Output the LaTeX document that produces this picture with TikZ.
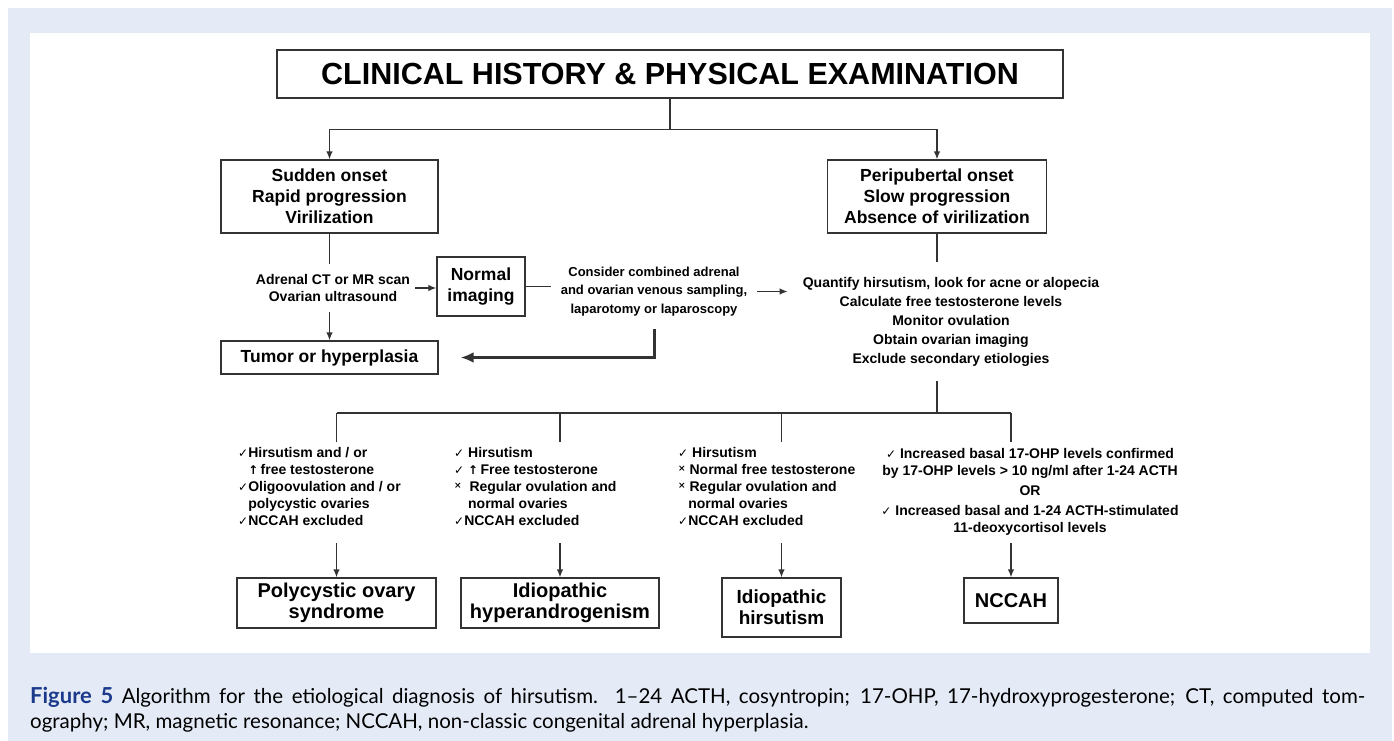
\documentclass[tikz,border=0pt]{standalone}
\usepackage{fontspec}
\setmainfont{Liberation Sans}
\newfontfamily\capfont[Ligatures=TeX]{Lato}
\newfontfamily\symfont{DejaVu Sans}
\usetikzlibrary{arrows.meta}

\definecolor{bgblue}{HTML}{E4EAF6}
\definecolor{figblue}{HTML}{1C3A8C}
\definecolor{linegray}{HTML}{333333}

\newcommand{\chk}{{\symfont\fontsize{12}{12}\selectfont ✓}}
\newcommand{\crs}{\raisebox{3pt}{\symfont\fontsize{9}{9}\selectfont ×}}
\newcommand{\uparr}{{\symfont\fontsize{12}{12}\selectfont ↑}}
\newcommand{\fsz}[2]{\fontsize{#1}{#2}\selectfont\bfseries}

\tikzset{
	box/.style={draw=linegray,line width=1.3pt,fill=white,align=center,inner sep=0pt,font=\fsz{17.5}{21}},
	txt/.style={align=center,inner sep=0pt,font=\fsz{14}{17}},
	crit/.style={align=left,inner sep=0pt,anchor=north west,font=\fsz{14}{17}},
	link/.style={draw=linegray,line width=1.3pt},
	arr/.style={link,-{Latex[length=8pt,width=6.5pt]}}
}

\begin{document}
\begin{tikzpicture}[x=1pt,y=-1pt]
	\useasboundingbox (0,0) rectangle (1394,741);
	\fill[bgblue] (8,8) rectangle (1392,741);
	\fill[white] (30,33) rectangle (1370,653);

	\node[box,minimum width=786,minimum height=48,font=\fsz{30.5}{32}] (exam) at (670,74) {CLINICAL HISTORY \& PHYSICAL EXAMINATION};
	\node[box,minimum width=217,minimum height=73] (sudden) at (329.5,196.5) {Sudden onset\\Rapid progression\\Virilization};
	\node[box,minimum width=219,minimum height=73] (peri) at (937,196.5) {Peripubertal onset\\Slow progression\\Absence of virilization};
	\node[txt,inner xsep=5,inner ysep=10] (scan) at (333,288) {Adrenal CT or MR scan\\Ovarian ultrasound};
	\node[box,minimum width=88,minimum height=59] (normal) at (481,286.5) {Normal\\imaging};
	\node[txt,inner xsep=10,inner ysep=13,font=\fsz{13}{18.5}] (consider) at (654,291.5) {Consider combined adrenal\\and ovarian venous sampling,\\laparotomy or laparoscopy};
	\node[txt,inner xsep=15,inner ysep=15,font=\fsz{14}{19}] (workup) at (951,321.5) {Quantify hirsutism, look for acne or alopecia\\Calculate free testosterone levels\\Monitor ovulation\\Obtain ovarian imaging\\Exclude secondary etiologies};
	\node[box,minimum width=217,minimum height=33] (tumor) at (329.5,357.5) {Tumor or hyperplasia};

	\draw[arr] (exam.south) -- ++(0,31) -| (sudden.north);
	\draw[arr] (exam.south) -- ++(0,31) -| (peri.north);
	\draw[link] (sudden.south) -- (sudden.south |- scan.north);
	\draw[arr] (sudden.south |- scan.south) -- (tumor.north);
	\draw[arr] (scan.east) -- (scan.east -| normal.west);
	\draw[link] (normal.east) -- (normal.east -| consider.west);
	\draw[arr] (consider.east) -- (consider.east -| workup.west);
	\draw[link] (peri.south) -- (peri.south |- workup.north);
	\draw[draw=linegray,line width=3pt,-{Latex[length=13pt,width=11pt]}] (consider.south) |- ([xshift=22pt]tumor.east);

	\node[crit] (pcoscrit) at (238,447) {\chk Hirsutism and / or\\\phantom{\chk}\uparr\,free testosterone\\\chk Oligoovulation and / or\\\phantom{\chk}polycystic ovaries\\\chk NCCAH excluded};
	\node[crit] (hypercrit) at (454,447) {\chk\ Hirsutism\\\chk\ \uparr\,Free testosterone\\\crs\ \ Regular ovulation and\\\phantom{\chk\ }normal ovaries\\\chk NCCAH excluded};
	\node[crit] (hirscrit) at (678,447) {\chk\ Hirsutism\\\crs\ Normal free testosterone\\\crs\ Regular ovulation and\\\phantom{\chk}normal ovaries\\\chk NCCAH excluded};
	\node[txt] (nccahcrit) at (1030,492) {\chk\ Increased basal 17-OHP levels confirmed\\by 17-OHP levels > 10 ng/ml after 1-24 ACTH\\[3pt]OR\\[3pt]\chk\ Increased basal and 1-24 ACTH-stimulated\\11-deoxycortisol levels};

	\node[box,minimum width=199,minimum height=50,font=\fsz{20}{21}] (pcos) at (336.5,603) {Polycystic ovary\\syndrome};
	\node[box,minimum width=198,minimum height=50,font=\fsz{20}{21}] (hyper) at (560,603) {Idiopathic\\hyperandrogenism};
	\node[box,minimum width=119,minimum height=59,font=\fsz{19}{21}] (hirs) at (781.5,607.5) {Idiopathic\\hirsutism};
	\node[box,minimum width=94,minimum height=45,font=\fsz{20}{21}] (nccah) at (1011,600.5) {NCCAH};

	\coordinate (hub) at (937,413);
	\coordinate (row) at (0,543);
	\draw[link] (peri.south |- workup.south) -- (hub);
	\draw[link] (pcos.north |- hub) -- (nccah.north |- hub);
	\foreach \b in {pcos,hyper,hirs,nccah} {
		\draw[link] (\b.north |- hub) -- ++(0,29);
		\draw[arr] (\b.north |- row) -- (\b.north);
	}

	\node[anchor=base west,inner sep=0pt,align=left,font=\capfont\fontsize{20.5}{25}\selectfont] (caption) at (30,728) {\makebox[1335pt][s]{\textcolor{figblue}{\bfseries\fontsize{22}{25}\selectfont Figure 5}\ Algorithm for the etiological diagnosis of hirsutism. 1--24 ACTH, cosyntropin; 17-OHP, 17-hydroxyprogesterone; CT, computed tom-}\\ography; MR, magnetic resonance; NCCAH, non-classic congenital adrenal hyperplasia.};
\end{tikzpicture}
\end{document}
